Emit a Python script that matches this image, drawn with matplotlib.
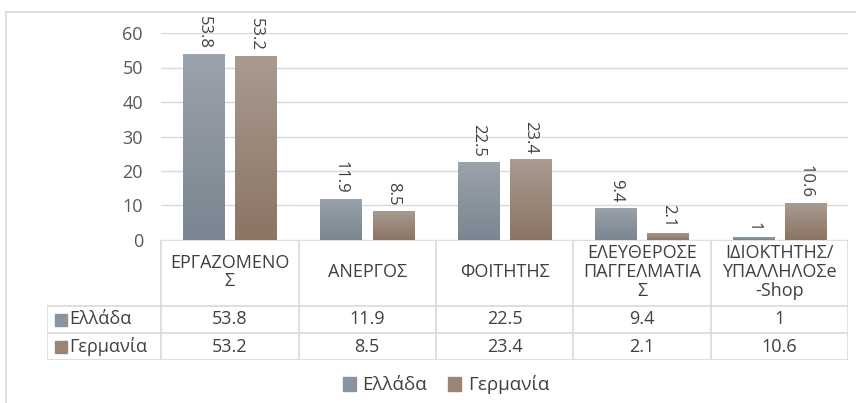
import numpy as np
import matplotlib
matplotlib.use("Agg")
import matplotlib.pyplot as plt
from matplotlib.colors import LinearSegmentedColormap
from matplotlib.lines import Line2D
from matplotlib.patches import Patch

plt.rcParams["font.family"] = ["Open Sans", "DejaVu Sans"]

# データ
categories = [
    "ΕΡΓΑΖΟΜΕΝΟ\nΣ",
    "ΑΝΕΡΓΟΣ",
    "ΦΟΙΤΗΤΗΣ",
    "ΕΛΕΥΘΕΡΟΣΕ\nΠΑΓΓΕΛΜΑΤΙΑ\nΣ",
    "ΙΔΙΟΚΤΗΤΗΣ/\nΥΠΑΛΛΗΛΟΣe\n-Shop",
]
series_names = ["Ελλάδα", "Γερμανία"]
greece = [53.8, 11.9, 22.5, 9.4, 1]
germany = [53.2, 8.5, 23.4, 2.1, 10.6]
yticks = [0, 10, 20, 30, 40, 50, 60]

# 色 (下, 上, 凡例)
grad_colors = [("#7a8591", "#9ba3ab"), ("#8b7464", "#a99b90")]
key_colors = ["#8a949e", "#9a8575"]
grid_c = "#d9d9d9"
text_c = "#404040"
tick_c = "#595959"

W, H = 856, 403
fig = plt.figure(figsize=(W / 100, H / 100), dpi=100)


def fx(px):
    return px / W


def fy(py):
    return 1 - py / H


# 外枠
fig.add_artist(Line2D([fx(6), 1], [fy(12), fy(12)], color=grid_c, lw=1.2, transform=fig.transFigure))
fig.add_artist(Line2D([fx(6), fx(6)], [0, fy(12)], color=grid_c, lw=1.2, transform=fig.transFigure))

# 棒グラフ
ax = fig.add_axes([fx(161), fy(240), fx(848 - 161), (240 - 33) / H])
x = np.arange(len(categories))
width = 0.30
offsets = [-0.19, 0.19]
grad = np.linspace(0, 1, 256).reshape(-1, 1)

for vals, off, (c0, c1), kc in zip([greece, germany], offsets, grad_colors, key_colors):
    bars = ax.bar(x + off, vals, width, color=kc, zorder=2)
    cmap = LinearSegmentedColormap.from_list("g", [c0, c1])
    for b, v in zip(bars, vals):
        x0 = b.get_x()
        im = ax.imshow(grad, extent=[x0, x0 + b.get_width(), 0, b.get_height()],
                       origin="lower", cmap=cmap, aspect="auto", zorder=3)
        im.set_clip_path(b)
        ax.annotate(f"{v:g}", (b.get_x() + b.get_width() / 2, v), xytext=(0, 4),
                    textcoords="offset points", rotation=270, ha="center", va="bottom",
                    fontsize=12, color=text_c, annotation_clip=False)

ax.set_xlim(-0.5, len(categories) - 0.5)
ax.set_ylim(0, 60)
ax.set_yticks(yticks)
ax.set_xticks([])
ax.grid(axis="y", color=grid_c, lw=1, zorder=0)
ax.set_axisbelow(True)
for s in ax.spines.values():
    s.set_visible(False)
ax.tick_params(axis="y", length=0, pad=13, labelsize=13, labelcolor=tick_c)

# データテーブル
tax = fig.add_axes([fx(47), fy(360), fx(848 - 47), (360 - 240) / H])
colw = 137.2
left = -0.5 - (161 - 47) / colw
tax.set_xlim(left, len(categories) - 0.5)
tax.set_ylim(360, 240)
tax.axis("off")

bounds = np.arange(len(categories) + 1) - 0.5
tax.vlines(bounds, 240, 360, color=grid_c, lw=1.2)
tax.vlines(left, 306, 360, color=grid_c, lw=1.2)
tax.hlines(240, bounds[0], bounds[-1], color=grid_c, lw=1.2)
tax.hlines([306, 333, 360], left, bounds[-1], color=grid_c, lw=1.2)

for xi, cat in zip(x, categories):
    tax.text(xi, 272, cat, ha="center", va="center", fontsize=13, color=text_c,
             linespacing=1.05)

row_y = [319.5, 346.5]
for name, vals, kc, ry in zip(series_names, [greece, germany], key_colors, row_y):
    tax.plot(left + 14 / colw, ry, marker="s", ms=8, color=kc, clip_on=False)
    tax.text(left + 22 / colw, ry, name, ha="left", va="center", fontsize=13, color=text_c)
    for xi, v in zip(x, vals):
        tax.text(xi, ry, f"{v:g}", ha="center", va="center", fontsize=13, color=text_c)

# 凡例
handles = [Patch(color=c) for c in key_colors]
fig.legend(handles, series_names, loc="center", bbox_to_anchor=(fx(446), fy(385)),
           ncol=2, frameon=False, fontsize=13.5, handlelength=0.7, handleheight=0.7,
           handletextpad=0.35, columnspacing=1.1, labelcolor=text_c)

plt.savefig("out.png", dpi=100)
